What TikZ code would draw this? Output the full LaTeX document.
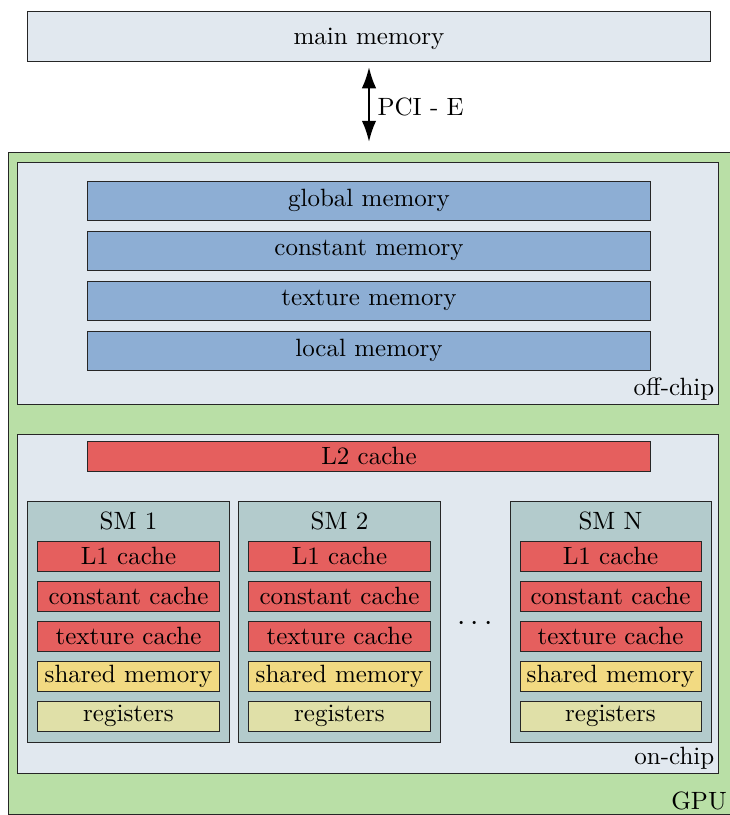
\documentclass[tikz,border=0pt]{standalone}
\usetikzlibrary{arrows.meta}
\definecolor{paleblue}{RGB}{225,232,239}
\definecolor{gpugreen}{RGB}{185,223,166}
\definecolor{memblue}{RGB}{141,174,212}
\definecolor{cachered}{RGB}{229,95,94}
\definecolor{smgray}{RGB}{179,203,204}
\definecolor{sharedyellow}{RGB}{242,218,130}
\definecolor{regyellow}{RGB}{224,224,168}
\tikzset{
  box/.style={draw=black!85, line width=0.4pt, rectangle, inner sep=0pt, anchor=center},
  region/.style={box, fill=paleblue},
  mem/.style={box, fill=memblue, minimum width=224.8pt, minimum height=15.6pt},
  cachebox/.style={box, fill=cachered, minimum width=72.4pt, minimum height=12pt},
  sharedbox/.style={box, fill=sharedyellow, minimum width=72.4pt, minimum height=12pt},
  regbox/.style={box, fill=regyellow, minimum width=72.4pt, minimum height=12pt},
  smbox/.style={box, fill=smgray, minimum width=80.4pt, minimum height=96.4pt},
  corner/.style={anchor=south east, inner sep=1.5pt},
  bustip/.tip={Latex[length=8.5pt,width=5.8pt]}
}
\begin{document}
\begin{tikzpicture}[x=0.4pt, y=-0.4pt]
\useasboundingbox (0,0) rectangle (730,815);

% host memory and the bus
\node[region, minimum width=272.8pt, minimum height=20pt, label={[yshift=-1.2pt]center:main memory}] (main) at (369,36) {};
\node[box, fill=gpugreen, minimum width=289.2pt, minimum height=264.8pt] (gpu) at (370.5,483) {};
\node[corner] at (gpu.south east) [xshift=-0.6pt] {GPU};
\coordinate (busTop) at (369,67);
\coordinate (busBot) at (369,142);
\draw[line width=0.9pt, bustip-bustip] (busTop) -- node[right, inner sep=3pt, yshift=-0.8pt] {PCI - E} (busBot);

% off-chip memories
\node[region, minimum width=280pt, minimum height=96.8pt] (off) at (368,283) {};
\node[corner] at (off.south east) {off-chip};
\node[mem] (global) at (369,200.5) {global memory};
\node[mem] (const) at (369,250.5) {constant memory};
\node[mem] (tex) at (369,300.5) {texture memory};
\node[mem] (local) at (369,350.5) {local memory};

% on-chip part
\node[region, minimum width=280pt, minimum height=135.6pt] (on) at (368,603.5) {};
\node[corner] at (on.south east) {on-chip};
\node[box, fill=cachered, minimum width=224.8pt, minimum height=12pt] (l2) at (369,456) {L2 cache};

\foreach \x/\n/\t in {128.5/1/SM 1, 339.5/2/SM 2, 610.5/N/SM N}{
  \node[smbox] (sm\n) at (\x,621.5) {};
  \node (sm\n title) at (\x,521) {\t};
  \node[cachebox] (l1\n) at (\x,556) {L1 cache};
  \node[cachebox] (cc\n) at (\x,596) {constant cache};
  \node[cachebox] (tc\n) at (\x,636) {texture cache};
  \node[sharedbox] (sh\n) at (\x,676) {shared memory};
  \node[regbox] (rg\n) at (\x,716) {registers};
}
\node[scale=1.2] (dots) at (475,624) {$\cdots$};
\end{tikzpicture}
\end{document}
